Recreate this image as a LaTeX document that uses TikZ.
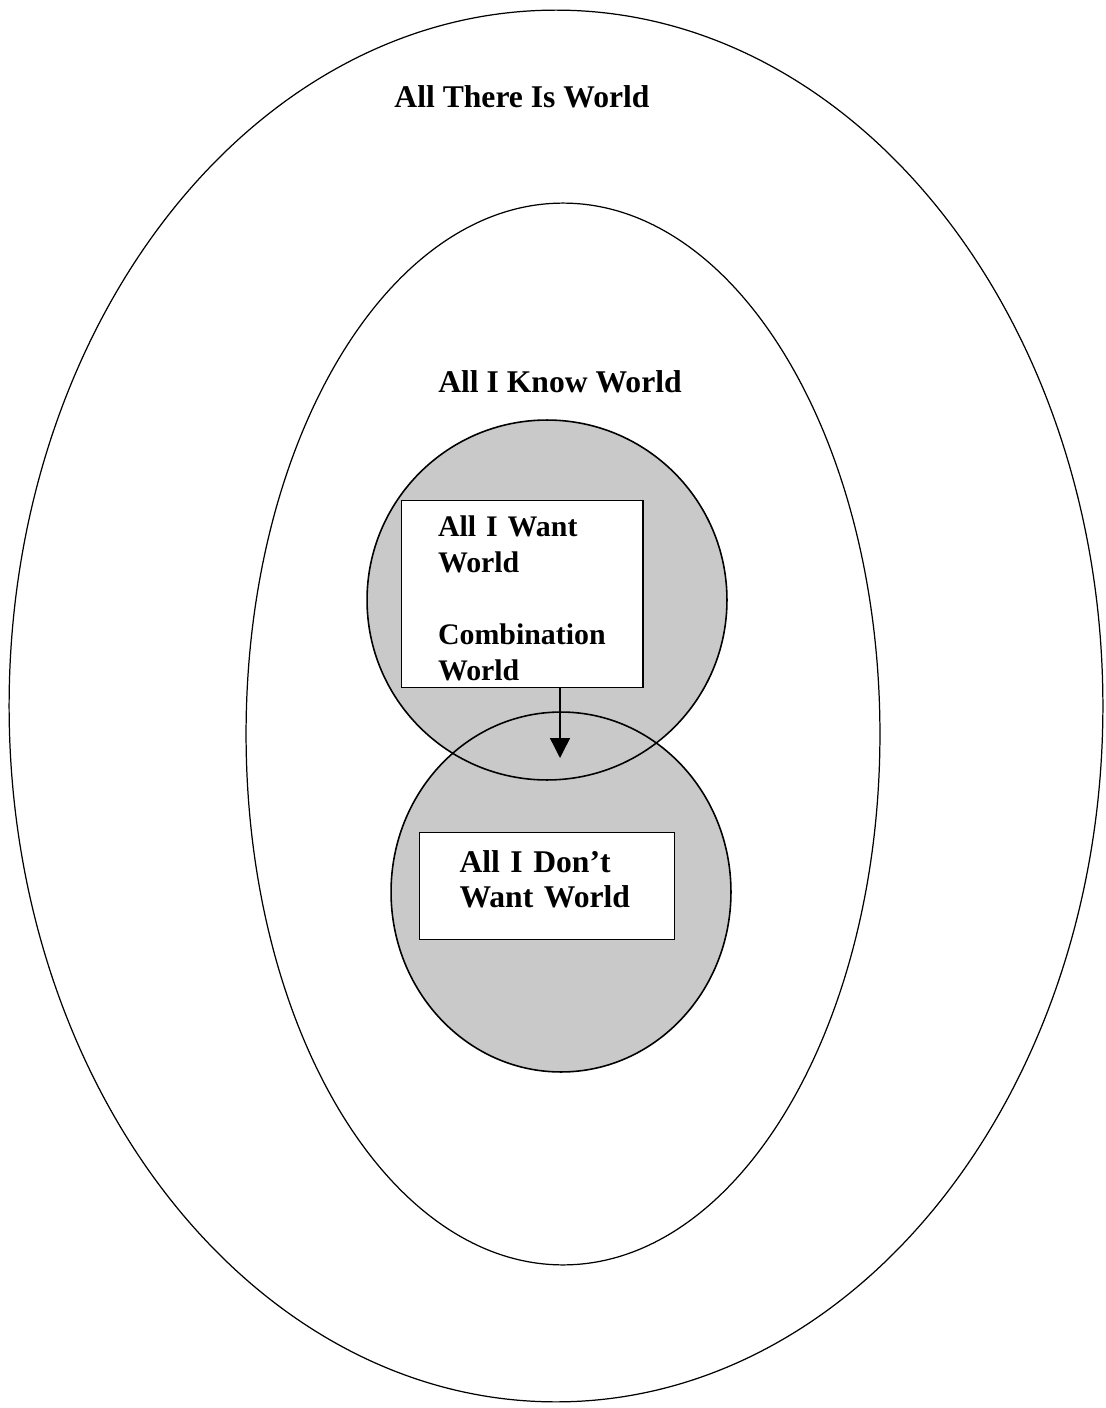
\documentclass[tikz,border=0pt]{standalone}
\usepackage{fontspec}
\setmainfont{Liberation Serif}
\usetikzlibrary{arrows.meta,positioning}

\begin{document}
\begin{tikzpicture}[x=0.02cm, y=-0.02cm,
  world/.style={draw=black, line width=0.7pt},
  blob/.style={fill=gray!42},
  rim/.style={draw=black, line width=0.9pt},
  title/.style={anchor=base, font=\fontsize{18}{21}\selectfont\bfseries},
  box/.style={rectangle, draw=black, line width=0.6pt, fill=white, align=left,
              inner ysep=0pt, font=\bfseries},
  arr/.style={-{Triangle[length=4mm,width=4mm]}, thick}
]
\useasboundingbox (0,0) rectangle (1105,1408);

% the two big worlds
\draw[world] (556,706) ellipse [x radius=10.94cm, y radius=13.92cm];
\draw[world] (563,734) ellipse [x radius=6.34cm, y radius=10.62cm];
\node[title] (there) at (522,108) {All There Is World};
\node[title] (know)  at (560,393) {All I Know World};

% want / don't want circles
\fill[blob] (547,600) circle [radius=3.6cm];
\fill[blob] (561,892) ellipse [x radius=3.4cm, y radius=3.6cm];
\draw[rim] (547,600) circle [radius=3.6cm];
\draw[rim] (561,892) ellipse [x radius=3.4cm, y radius=3.6cm];

\node[box, minimum width=4.84cm, minimum height=3.74cm, text width=3.36cm,
      inner xsep=0.74cm, font=\fontsize{17}{20.5}\selectfont\bfseries]
  (want) at (522,594)
  {\rule{0pt}{16.5pt}All I Want\\World\\[20.5pt]Combination\\World};
\node[box, minimum width=5.1cm, minimum height=2.14cm, text width=3.5cm,
      inner xsep=0.76cm, font=\fontsize{18}{20}\selectfont\bfseries]
  (dont) at (547,886)
  {All I Don't\\Want World\rule[-8pt]{0pt}{8pt}};

\coordinate (tip) at (560,758);
\draw[arr] (want.south -| tip) -- (tip);
\end{tikzpicture}
\end{document}
